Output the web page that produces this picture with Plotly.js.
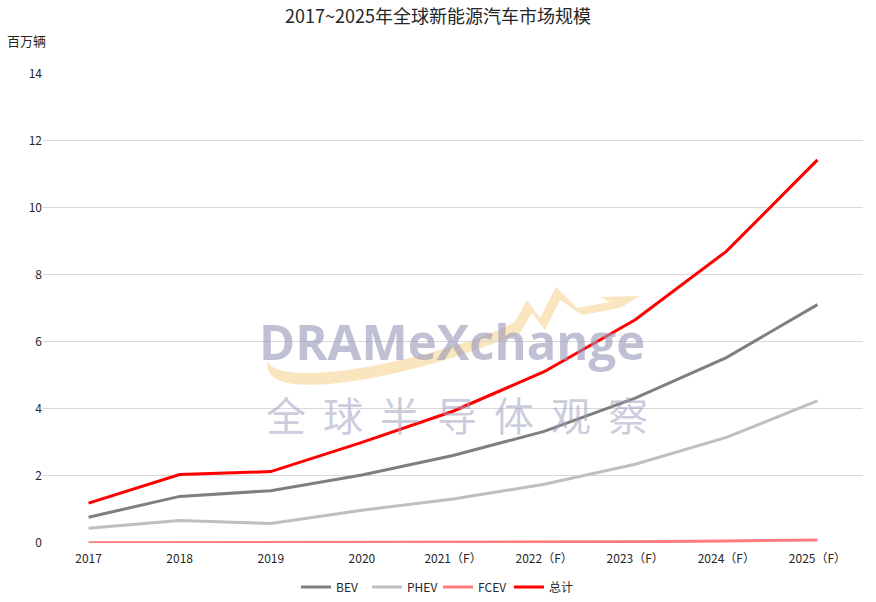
<!DOCTYPE html>
<html>
<head>
<meta charset="utf-8">
<script src="https://cdn.plot.ly/plotly-3.0.1.min.js"></script>
<style>html,body{margin:0;padding:0;background:#fff;}#chart{width:876px;height:602px;}</style>
</head>
<body>
<div id="chart"></div>
<script>
const categories = ["2017","2018","2019","2020","2021（F）","2022（F）","2023（F）","2024（F）","2025（F）"];
const bev   = [0.77, 1.39, 1.56, 2.03, 2.61, 3.33, 4.32, 5.53, 7.11];
const phev  = [0.44, 0.67, 0.58, 0.98, 1.31, 1.75, 2.35, 3.15, 4.24];
const fcev  = [0.005, 0.008, 0.01, 0.015, 0.02, 0.03, 0.04, 0.06, 0.09];
const total = [1.19, 2.04, 2.13, 3.00, 3.93, 5.11, 6.66, 8.70, 11.43];
const seriesNames = ["BEV","PHEV","FCEV","总计"];
const yTicks = [0,2,4,6,8,10,12,14];
const watermarkChars = ["全","球","半","导","体","观","察"];

const font = "'Noto Sans CJK SC', 'Noto Sans', sans-serif";
const colors = ["#7f7f7f","#bfbfbf","#ff7c80","#ff0000"];
const data = [bev, phev, fcev, total].map((v,i)=>({
  type:"scatter", mode:"lines", x:categories, y:v, name:seriesNames[i],
  line:{color:colors[i], width:3}, hoverinfo:"skip"
}));

const wmAnnotations = watermarkChars.map((c,i)=>({
  text:c, xref:"paper", yref:"paper", x:0.2963 + i*0.0695, y:0.2745, xanchor:"center", yanchor:"middle",
  showarrow:false, font:{family:font, size:40, color:"rgba(160,160,192,0.55)"}
}));

const layout = {
  width:876, height:602,
  margin:{l:43, r:13, t:73, b:59},
  paper_bgcolor:"#fff", plot_bgcolor:"rgba(0,0,0,0)",
  font:{family:font, color:"#262626", size:12},
  title:{text:"2017~2025年全球新能源汽车市场规模", x:0.5, xanchor:"center", y:0.972, yanchor:"middle",
         font:{family:font, size:18, color:"#262626"}},
  xaxis:{type:"category", range:[-0.5,8.5], showgrid:false, zeroline:false, showline:false,
         ticks:"outside", ticklen:5, tickcolor:"rgba(0,0,0,0)", tickfont:{size:12, color:"#262626"}, fixedrange:true},
  yaxis:{range:[0,14.02], tickvals:yTicks, ticktext:yTicks.map(String), showgrid:true, gridcolor:"#d9d9d9",
         gridwidth:1, zeroline:false, showline:false, ticks:"", tickfont:{size:12, color:"#262626"},
         fixedrange:true},
  showlegend:true,
  legend:{orientation:"h", x:0.5, xanchor:"center", xref:"container", y:0.025, yref:"container", yanchor:"middle",
          font:{size:12, color:"#262626"}, itemwidth:30, entrywidth:26, entrywidthmode:"pixels",
          tracegroupgap:0, itemclick:false},
  shapes:[
    {type:"path", xref:"paper", yref:"paper", layer:"below",
     path:"M 0.2744 0.3894 C 0.2744 0.3638 0.3134 0.3511 0.3866 0.3723 C 0.4598 0.3936 0.5329 0.4319 0.5756 0.4702 L 0.5902 0.5170 L 0.6061 0.4787 L 0.6256 0.5447 L 0.6512 0.5000 L 0.6915 0.5128 L 0.6793 0.5234 L 0.7280 0.5255 L 0.7037 0.5000 L 0.6573 0.4851 L 0.6305 0.5170 L 0.6122 0.4532 L 0.5963 0.4894 L 0.5817 0.4468 C 0.5329 0.4106 0.4598 0.3681 0.3866 0.3468 C 0.3134 0.3255 0.2671 0.3362 0.2744 0.3894 Z",
     fillcolor:"rgba(245,200,110,0.45)", line:{width:0}}
  ],
  annotations:[
    {text:"百万辆", xref:"paper", yref:"paper", x:-0.0463, y:1.070, xanchor:"left", yanchor:"middle",
     showarrow:false, font:{size:13, color:"#262626"}},
    {text:"<b>DRAMeXchange</b>", xref:"paper", yref:"paper", x:0.4988, y:0.430, xanchor:"center", yanchor:"middle",
     showarrow:false, font:{family:"'Open Sans', 'DejaVu Sans', sans-serif", size:49, color:"rgba(150,150,185,0.6)"}}
  ].concat(wmAnnotations)
};
Plotly.newPlot("chart", data, layout, {staticPlot:true, displayModeBar:false});
</script>
</body>
</html>
